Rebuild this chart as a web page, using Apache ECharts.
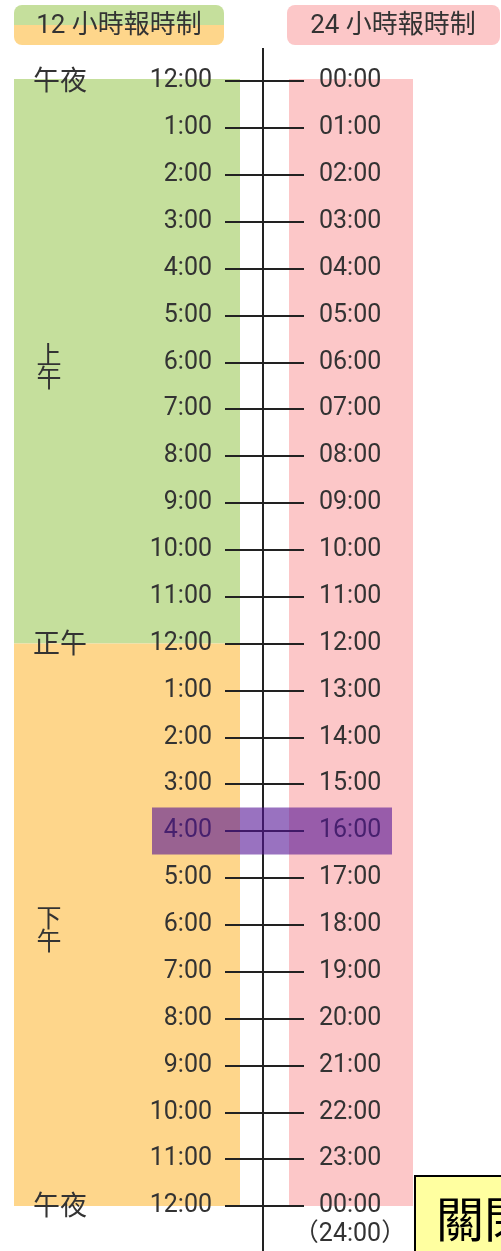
<!DOCTYPE html>
<html><head><meta charset="utf-8">
<script src="https://cdn.jsdelivr.net/npm/echarts@6/dist/echarts.min.js"></script>
<style>html,body{margin:0;padding:0;background:#fff;overflow:hidden}#c{width:501px;height:1251px}</style>
</head><body><div id="c"></div>
<script>
// ---- data ----
const twelveHourLabels = ['12:00','1:00','2:00','3:00','4:00','5:00','6:00','7:00','8:00','9:00','10:00','11:00',
  '12:00','1:00','2:00','3:00','4:00','5:00','6:00','7:00','8:00','9:00','10:00','11:00','12:00'];
const twentyFourHourLabels = ['00:00','01:00','02:00','03:00','04:00','05:00','06:00','07:00','08:00','09:00','10:00','11:00',
  '12:00','13:00','14:00','15:00','16:00','17:00','18:00','19:00','20:00','21:00','22:00','23:00','00:00'];
const periodNames = ['午夜','上午','正午','下午','午夜'];
const periodHours = [0, 6, 12, 18, 24];
const twelveHourBands = [[0, 12], [12, 24]];
const twentyFourHourBands = [[0, 24]];
const highlightHours = [16];
const noteHours = [24];
const noteTexts = ['（24:00）'];
const headerTexts = ['12 小時報時制', '24 小時報時制'];
const closeText = '關閉';

// ---- styles / layout ----
const GREEN = '#c5df9c', ORANGE = '#fed68b', PINK = '#fcc7c8';
const TXT = '#333';
const NUM_FONT = 'Roboto, "Noto Sans CJK TC", sans-serif';
const CJK_FONT = '"Noto Sans CJK TC", sans-serif';

const chart = echarts.init(document.getElementById('c'), null, {renderer: 'canvas'});

function bandRenderer(x0, x1, colors) {
  return function (params, api) {
    const y0 = api.coord([0, api.value(0)])[1];
    const y1 = api.coord([0, api.value(1)])[1];
    const ext = api.value(0) === 0 ? 2 : 0;
    return {type: 'rect', shape: {x: x0, y: y0 - ext, width: x1 - x0, height: y1 - y0 + ext},
      style: {fill: colors[params.dataIndex]}};
  };
}

const option = {
  animation: false,
  grid: {left: 225, right: 197, top: 81, height: 1125},
  xAxis: {type: 'value', min: 0, max: 1, show: false},
  yAxis: [
    {type: 'value', min: 0, max: 24, interval: 1, inverse: true, position: 'left', z: 3,
      axisLine: {show: false}, axisTick: {show: false},
      splitLine: {show: true, lineStyle: {color: '#222', width: 2}},
      axisLabel: {margin: 13, fontSize: 25, color: TXT, fontFamily: NUM_FONT,
        showMinLabel: true, showMaxLabel: true, formatter: v => twelveHourLabels[v]}},
    {type: 'value', min: 0, max: 24, interval: 1, inverse: true, position: 'right', z: 3,
      axisLine: {show: false}, axisTick: {show: false}, splitLine: {show: false},
      axisLabel: {margin: 15, fontSize: 25, color: TXT, fontFamily: NUM_FONT,
        showMinLabel: true, showMaxLabel: true, formatter: v => twentyFourHourLabels[v]}}
  ],
  series: [
    {type: 'custom', z: 1, clip: false, silent: true, data: twelveHourBands,
      renderItem: bandRenderer(14, 240, [GREEN, ORANGE])},
    {type: 'custom', z: 1, clip: false, silent: true, data: twentyFourHourBands,
      renderItem: bandRenderer(289, 413, [PINK])},
    {type: 'custom', z: 4, clip: false, silent: true, data: periodHours.map((h, i) => [h, i]),
      renderItem: function (params, api) {
        const y = api.coord([0, api.value(0)])[1];
        const name = periodNames[api.value(1)];
        const vertical = api.value(0) % 12 !== 0;
        if (vertical) {
          return {type: 'text', style: {text: name.split('').join('\n'), x: 49, y: y + 4, align: 'center', verticalAlign: 'middle',
            fontSize: 25, lineHeight: 23, fill: TXT, fontFamily: CJK_FONT}};
        }
        return {type: 'text', style: {text: name, x: 33, y: y - 1, align: 'left', verticalAlign: 'middle',
          fontSize: 27, fill: TXT, fontFamily: CJK_FONT}};
      }},
    {type: 'custom', z: 4, clip: false, silent: true, data: noteHours.map((h, i) => [h, i]),
      renderItem: function (params, api) {
        const y = api.coord([0, api.value(0)])[1];
        return {type: 'text', style: {text: noteTexts[api.value(1)], x: 350, y: y + 29, align: 'center', verticalAlign: 'middle',
          fontSize: 25, fill: TXT, fontFamily: NUM_FONT}};
      }},
    {type: 'custom', z: 10, clip: false, silent: true, data: highlightHours,
      renderItem: function (params, api) {
        const y0 = api.coord([0, api.value(0) - 0.5])[1];
        const y1 = api.coord([0, api.value(0) + 0.5])[1];
        return {type: 'rect', shape: {x: 152, y: y0, width: 240, height: y1 - y0},
          style: {fill: 'rgba(85,20,150,0.6)'}};
      }}
  ],
  graphic: [
    {type: 'rect', z: 5, shape: {x: 14, y: 5, width: 210, height: 40, r: 8},
      style: {fill: new echarts.graphic.LinearGradient(0, 0, 0, 1, [
        {offset: 0, color: GREEN}, {offset: 0.5, color: GREEN}, {offset: 0.5, color: ORANGE}, {offset: 1, color: ORANGE}])}},
    {type: 'text', z: 6, style: {text: headerTexts[0], x: 119, y: 26, align: 'center', verticalAlign: 'middle',
      fontSize: 26, fill: TXT, fontFamily: NUM_FONT}},
    {type: 'rect', z: 5, shape: {x: 287, y: 5, width: 213, height: 40, r: 8}, style: {fill: PINK}},
    {type: 'text', z: 6, style: {text: headerTexts[1], x: 393, y: 26, align: 'center', verticalAlign: 'middle',
      fontSize: 26, fill: TXT, fontFamily: NUM_FONT}},
    {type: 'line', z: 5, shape: {x1: 263, y1: 48, x2: 263, y2: 1251}, style: {stroke: '#222', lineWidth: 2}},
    {type: 'rect', z: 20, shape: {x: 415, y: 1176, width: 100, height: 90},
      style: {fill: '#ffffa0', stroke: '#000', lineWidth: 2}},
    {type: 'text', z: 21, style: {text: closeText, x: 436, y: 1219, align: 'left', verticalAlign: 'middle',
      fontSize: 48, fill: '#000', fontFamily: CJK_FONT}}
  ]
};
chart.setOption(option);
</script>
</body></html>
